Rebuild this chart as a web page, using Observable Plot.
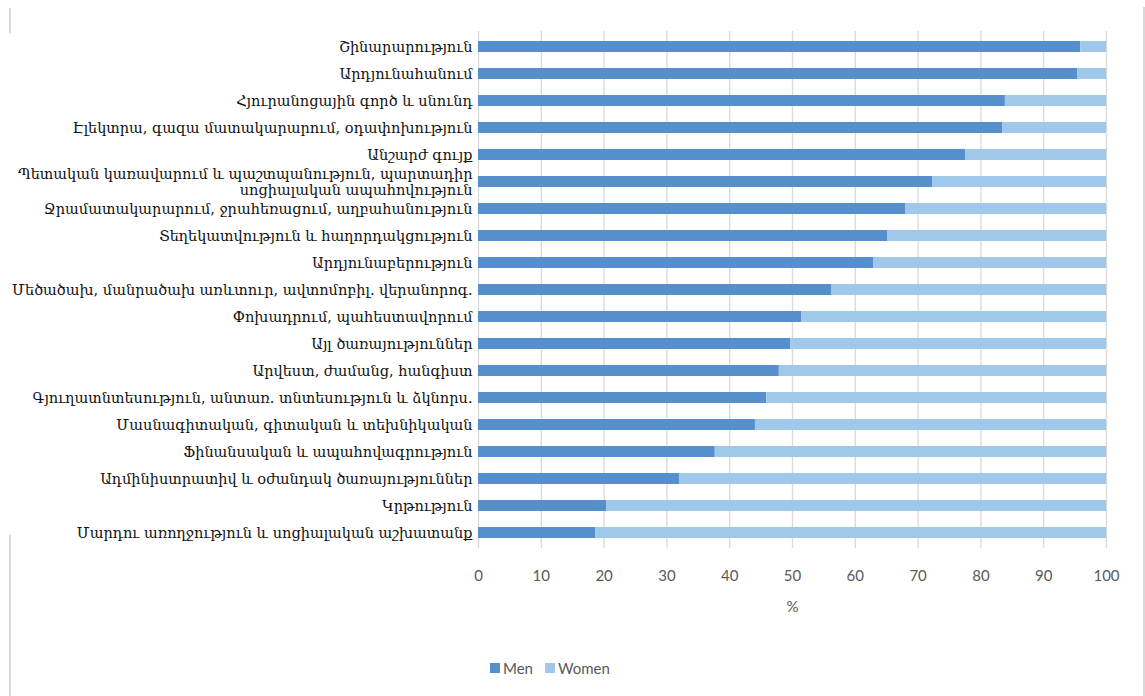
<!DOCTYPE html>
<html>
<head>
<meta charset="utf-8">
<script src="https://cdn.jsdelivr.net/npm/d3@7"></script>
<script src="https://cdn.jsdelivr.net/npm/@observablehq/plot@0.6"></script>
<style>
  body { margin: 0; background: #fff; }
  #wrap { position: relative; width: 1145px; height: 696px; overflow: hidden; background: #fff; }
  #chart { position: absolute; left: 0; top: 0; }
  #legend { position: absolute; left: 490px; top: 651px; }
  #legend [class$="-swatch"] { margin-right: 12px !important; }
  #legend [class$="-swatch"] > svg { margin-right: 3px !important; }
  .edge { position: absolute; background: #d9d9d9; width: 2px; }
</style>
</head>
<body>
<div id="wrap">
  <div class="edge" style="left:9px; top:8px; height:25px;"></div>
  <div class="edge" style="left:9px; top:535px; height:161px;"></div>
  <div class="edge" style="left:1143px; top:7px; height:689px;"></div>
  <div id="chart"></div>
  <div id="legend"></div>
</div>
<script>
// Categories (top to bottom)
const categories = [
  "Շինարարություն",
  "Արդյունահանում",
  "Հյուրանոցային գործ և սնունդ",
  "Էլեկտրա, գազա մատակարարում, օդափոխություն",
  "Անշարժ գույք",
  "Պետական կառավարում և պաշտպանություն, պարտադիր\nսոցիալական ապահովություն",
  "Ջրամատակարարում, ջրահեռացում, աղբահանություն",
  "Տեղեկատվություն և հաղորդակցություն",
  "Արդյունաբերություն",
  "Մեծածախ, մանրածախ առևտուր, ավտոմոբիլ. վերանորոգ.",
  "Փոխադրում, պահեստավորում",
  "Այլ ծառայություններ",
  "Արվեստ, ժամանց, հանգիստ",
  "Գյուղատնտեսություն, անտառ. տնտեսություն և ձկնորս.",
  "Մասնագիտական, գիտական և տեխնիկական",
  "Ֆինանսական և ապահովագրություն",
  "Ադմինիստրատիվ և օժանդակ ծառայություններ",
  "Կրթություն",
  "Մարդու առողջություն և սոցիալական աշխատանք"
];
// Share of men, %
const menShare = [95.9, 95.4, 83.9, 83.5, 77.6, 72.3, 68.0, 65.2, 62.9, 56.3, 51.5, 49.7, 47.9, 45.9, 44.1, 37.7, 32.0, 20.4, 18.7];
// Share of women, %
const womenShare = [4.1, 4.6, 16.1, 16.5, 22.4, 27.7, 32.0, 34.8, 37.1, 43.7, 48.5, 50.3, 52.1, 54.1, 55.9, 62.3, 68.0, 79.6, 81.3];
const series = ["Men", "Women"];
const seriesColors = ["#5590cc", "#9fc8ea"];
const xTicks = [0, 10, 20, 30, 40, 50, 60, 70, 80, 90, 100];

const data = categories.flatMap((c, i) => [
  {cat: c, series: series[0], value: menShare[i]},
  {cat: c, series: series[1], value: womenShare[i]}
]);

const chart = Plot.plot({
  width: 1145,
  height: 625,
  marginTop: 31,
  marginBottom: 77,
  marginLeft: 478,
  marginRight: 39,
  style: {background: "transparent", fontFamily: "Lato, sans-serif", fontSize: "15px", color: "#595959"},
  x: {domain: [0, 100]},
  y: {domain: categories, padding: 0},
  color: {domain: series, range: seriesColors},
  marks: [
    Plot.gridX(xTicks, {stroke: "#d9d9d9", strokeOpacity: 1, strokeWidth: 1.3}),
    Plot.barX(data, Plot.stackX({y: "cat", x: "value", fill: "series", insetTop: 8, insetBottom: 8})),
    Plot.axisX(xTicks, {tickSize: 0, tickPadding: 22, label: "%", labelAnchor: "center", labelArrow: "none", labelOffset: 63, fill: "#595959", fontSize: 15}),
    Plot.axisY({tickSize: 0, tickPadding: 6, label: null, fontFamily: "DejaVu Serif, DejaVu Sans, serif", fontSize: 14.5, lineHeight: 1.12, fill: "#111"})
  ]
});
document.getElementById("chart").appendChild(chart);

const legend = Plot.legend({
  color: {domain: series, range: seriesColors},
  swatchSize: 10,
  style: {fontFamily: "Lato, sans-serif", fontSize: "15px", color: "#595959"}
});
document.getElementById("legend").appendChild(legend);
</script>
</body>
</html>
